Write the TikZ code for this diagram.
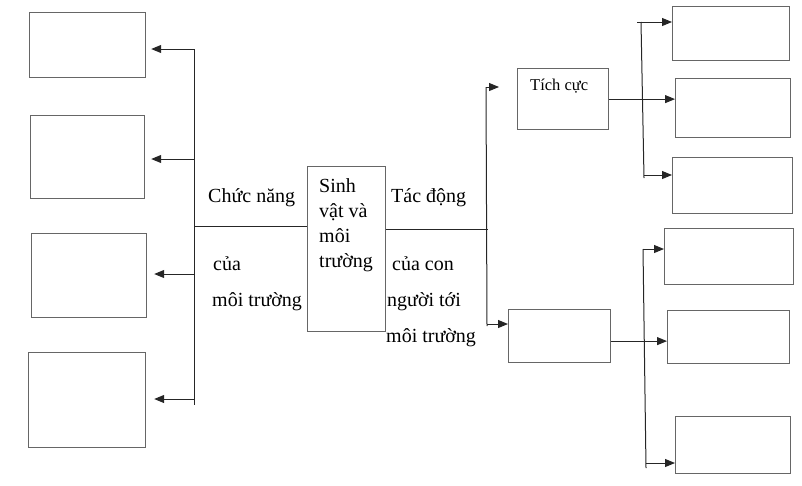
\documentclass[tikz,border=0pt]{standalone}
\usepackage{fontspec}
\setmainfont{Liberation Serif}
\usetikzlibrary{arrows.meta}
\begin{document}
\begin{tikzpicture}[x=1pt,y=-1pt,
  box/.style={draw=black!60,line width=1.2pt,inner sep=0pt,anchor=north west},
  conn/.style={draw=black!85,line width=1pt},
  arr/.style={conn,-{Triangle[length=10pt,width=8pt]}},
  lbl/.style={inner sep=0pt,anchor=base west,font=\fontsize{20}{24}\selectfont},
  small/.style={inner sep=0pt,anchor=base west,font=\fontsize{16.5}{20}\selectfont}]
\useasboundingbox (0,0) rectangle (802,485);
% boxes
\node[box,minimum width=116pt,minimum height=65pt] (L1) at (29,12) {};
\node[box,minimum width=114pt,minimum height=83pt] (L2) at (30,115) {};
\node[box,minimum width=115pt,minimum height=84pt] (L3) at (31,233) {};
\node[box,minimum width=117pt,minimum height=95pt] (L4) at (28,352) {};
\node[box,minimum width=78pt,minimum height=165pt] (C) at (307,166) {};
\node[box,minimum width=91pt,minimum height=61pt] (TC) at (517,68) {};
\node[box,minimum width=102pt,minimum height=53pt] (NB) at (508,309) {};
\node[box,minimum width=117pt,minimum height=54pt] (R1) at (672,6) {};
\node[box,minimum width=115pt,minimum height=59pt] (R2) at (675,78) {};
\node[box,minimum width=120pt,minimum height=56pt] (R3) at (672,157) {};
\node[box,minimum width=129pt,minimum height=56pt] (R4) at (664,228) {};
\node[box,minimum width=122pt,minimum height=53pt] (R5) at (667,310) {};
\node[box,minimum width=115pt,minimum height=57pt] (R6) at (675,416) {};
% texts
\node[lbl] (c1) at (319,192) {Sinh};
\node[lbl] (c2) at (319,217) {vật và};
\node[lbl] (c3) at (319,242) {môi};
\node[lbl] (c4) at (319,267) {trường};
\node[lbl] (a1) at (208,202) {Chức năng};
\node[lbl] (a2) at (213,270) {của};
\node[lbl] (a3) at (212,306) {môi trường};
\node[lbl] (b1) at (391,202) {Tác động};
\node[lbl] (b2) at (392,270) {của con};
\node[lbl] (b3) at (387,306) {người tới};
\node[lbl] (b4) at (386,342) {môi trường};
\node[small] (tct) at (530,90) {Tích cực};
% left trunk
\coordinate (lt1) at (194,49);
\coordinate (lt2) at (194,159);
\coordinate (lt3) at (194,274);
\coordinate (lt4) at (194,399);
\coordinate (lend) at (194,405);
\coordinate (lmid) at (194,226);
\draw[conn] (lt1) -- (lend);
\draw[conn] (lmid) -- (lmid -| C.west);
\draw[arr,shorten >=5pt] (lt1) -- (lt1 -| L1.east);
\draw[arr,shorten >=6pt] (lt2) -- (lt2 -| L2.east);
\draw[arr,shorten >=7pt] (lt3) -- (lt3 -| L3.east);
\draw[arr,shorten >=8pt] (lt4) -- (lt4 -| L4.east);
% right trunk
\coordinate (rt) at (486,87);
\coordinate (rb) at (487,326);
\coordinate (rmid) at (488,229);
\coordinate (rb2) at (487,324);
\draw[conn] (rt) -- (rb);
\draw[conn] (rmid -| C.east) -- (rmid);
\draw[arr,shorten >=18pt] (rt) -- (rt -| TC.west);
\draw[arr] (rb2) -- (rb2 -| NB.west);
% upper right trunk
\coordinate (ut) at (641,22);
\coordinate (ua) at (637,22);
\coordinate (ub) at (644,178);
\coordinate (ub2) at (644,175);
\draw[conn] (ut) -- (ub);
\draw[arr] (ua) -- (ua -| R1.west);
\draw[arr] (TC.east) -- (TC.east -| R2.west);
\draw[arr] (ub2) -- (ub2 -| R3.west);
% lower right trunk
\coordinate (vt) at (643,249);
\coordinate (vb) at (646,468);
\coordinate (vb2) at (646,463);
\draw[conn] (vt) -- (vb);
\draw[arr] (vt) -- (vt -| R4.west);
\draw[arr] ([yshift=-5pt]NB.east) -- ([yshift=-5pt]NB.east -| R5.west);
\draw[arr] (vb2) -- (vb2 -| R6.west);
\end{tikzpicture}
\end{document}
